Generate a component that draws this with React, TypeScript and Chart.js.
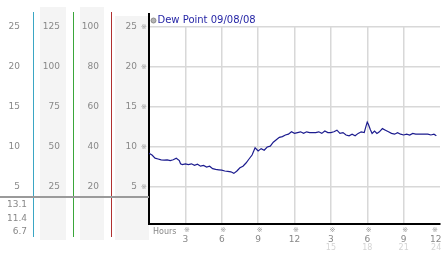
import React, { useEffect, useRef } from 'react';
import { Chart, registerables } from 'chart.js';

Chart.register(...registerables);

const FONT = 'DejaVu Sans';

const seriesLabel = 'Dew Point 09/08/08';

const hours = [
  0, 0.25, 0.5, 0.75, 1, 1.25, 1.5, 1.75, 2, 2.25, 2.5, 2.6,
  2.75, 3, 3.25, 3.5, 3.75, 4, 4.25, 4.5, 4.75, 5, 5.25, 5.5, 5.75,
  6, 6.25, 6.5, 6.75, 7, 7.25, 7.5, 7.75, 8, 8.25, 8.5, 8.75,
  9, 9.25, 9.5, 9.75, 10, 10.25, 10.5, 10.75, 11, 11.25, 11.5, 11.75,
  12, 12.25, 12.5, 12.75, 13, 13.25, 13.5, 13.75, 14, 14.25, 14.5, 14.75,
  15, 15.25, 15.5, 15.75, 16, 16.25, 16.5, 16.75, 17, 17.25, 17.5, 17.75,
  17.9, 18, 18.1, 18.25, 18.4, 18.6, 18.8,
  19, 19.25, 19.5, 19.75, 20, 20.25, 20.5, 20.75, 21, 21.25, 21.5, 21.75,
  22, 22.25, 22.5, 22.75, 23, 23.25, 23.5, 23.7,
];

const dewPoint = [
  9.2, 9.0, 8.6, 8.5, 8.4, 8.35, 8.4, 8.3, 8.4, 8.6, 8.3, 7.9,
  7.8, 7.9, 7.8, 7.9, 7.7, 7.85, 7.6, 7.7, 7.5, 7.6, 7.3, 7.2, 7.15,
  7.1, 7.0, 6.95, 6.9, 6.7, 7.0, 7.4, 7.6, 8.0, 8.5, 9.0, 9.9,
  9.5, 9.8, 9.6, 10.0, 10.1, 10.6, 10.9, 11.2, 11.3, 11.5, 11.6, 11.9,
  11.7, 11.8, 11.9, 11.7, 11.9, 11.8, 11.8, 11.8, 11.9, 11.7, 12.0, 11.8,
  11.8, 11.9, 12.1, 11.7, 11.8, 11.5, 11.4, 11.6, 11.4, 11.7, 11.9, 11.8,
  12.6, 13.1, 12.8, 12.2, 11.7, 12.0, 11.7,
  11.9, 12.3, 12.1, 11.9, 11.7, 11.6, 11.8, 11.6, 11.5, 11.6, 11.5, 11.7,
  11.6, 11.6, 11.6, 11.6, 11.6, 11.5, 11.6, 11.4,
];

const xTickHours = [3, 6, 9, 12, 15, 18, 21, 24];
const xTickLabels = ['3', '6', '9', '12', '3', '6', '9', '12'];
const xTickLabels2 = ['', '', '', '', '15', '18', '21', '24'];
const xAxisName = 'Hours';

const yTicksDew = [5, 10, 15, 20, 25];
const yTicksB = [20, 40, 60, 80, 100];
const yTicksC = [25, 50, 75, 100, 125];
const yTicksD = [5, 10, 15, 20, 25];

const statLabels = ['13.1', '11.4', '6.7'];

const yMin = 0.375;
const yMax = 25;

export default function App() {
  const ref = useRef<HTMLCanvasElement>(null);

  useEffect(() => {
    const canvas = ref.current!;
    const lastDew = yTicksDew[yTicksDew.length - 1];
    const rB = yTicksB[yTicksB.length - 1] / lastDew;
    const rC = yTicksC[yTicksC.length - 1] / lastDew;
    const lastX = xTickLabels.length - 1;

    const setTicks = (arr: number[]) => (s: any) => {
      s.ticks = arr.map((v) => ({ value: v }));
    };
    const tickFont = { family: FONT, size: 9 };

    const sideAxis = (arr: number[], ratio: number, weight: number, width: number, padding: number) => ({
      type: 'linear',
      axis: 'y',
      position: 'left',
      weight,
      min: yMin * ratio,
      max: yMax * ratio,
      afterBuildTicks: setTicks(arr),
      afterFit: (s: any) => {
        s.width = width;
      },
      grid: { display: false, drawTicks: false },
      border: { display: false },
      ticks: { color: '#888', font: tickFont, padding },
    });

    const mark = (ctx: CanvasRenderingContext2D, x: number, y: number) => {
      ctx.save();
      ctx.font = `7px ${FONT}`;
      ctx.fillStyle = '#9a9a9a';
      ctx.textAlign = 'center';
      ctx.textBaseline = 'middle';
      ctx.fillText('\u203B', x, y);
      ctx.restore();
    };

    const decor = {
      id: 'decor',
      beforeDraw(chart: any) {
        const { ctx, chartArea, scales } = chart;
        const bgBottom = chartArea.bottom + 16;
        ctx.save();
        ctx.fillStyle = '#f4f4f4';
        const c = scales.yC;
        const b = scales.yB;
        const y = scales.y;
        ctx.fillRect(c.left + 7, 7, c.width - 14, bgBottom - 7);
        ctx.fillRect(b.left + 7, 7, b.width - 14, bgBottom - 7);
        ctx.fillRect(y.left + 4, 16, y.width - 4, bgBottom - 16);
        ctx.restore();
      },
      afterDraw(chart: any) {
        const { ctx, chartArea, scales } = chart;
        ctx.save();
        const seps: [any, string][] = [
          [scales.yD, '#3aa6c4'],
          [scales.yC, '#3aa63a'],
          [scales.yB, '#b03030'],
        ];
        ctx.lineWidth = 1;
        for (const [s, col] of seps) {
          ctx.strokeStyle = col;
          ctx.beginPath();
          ctx.moveTo(Math.round(s.right) + 0.5, 12);
          ctx.lineTo(Math.round(s.right) + 0.5, chartArea.bottom + 13);
          ctx.stroke();
        }
        ctx.strokeStyle = '#9a9a9a';
        ctx.lineWidth = 2;
        ctx.beginPath();
        ctx.moveTo(0, chartArea.bottom - 27);
        ctx.lineTo(chartArea.left, chartArea.bottom - 27);
        ctx.stroke();
        ctx.strokeStyle = '#000';
        ctx.beginPath();
        ctx.moveTo(chartArea.left, 13);
        ctx.lineTo(chartArea.left, chartArea.top + 1);
        ctx.stroke();
        ctx.font = `9px ${FONT}`;
        ctx.fillStyle = '#888';
        ctx.textAlign = 'right';
        ctx.textBaseline = 'middle';
        statLabels.forEach((t, i) => {
          ctx.fillText(t, scales.yD.right - 6, chartArea.bottom - 19 + i * 13.5);
        });
        ctx.textAlign = 'left';
        ctx.font = `8px ${FONT}`;
        ctx.fillText(xAxisName, chartArea.left + 4, chartArea.bottom + 8);
        ctx.restore();
        for (const v of yTicksDew) mark(ctx, chartArea.left - 5, scales.y.getPixelForValue(v));
        xTickHours.forEach((h, i) => {
          const px = scales.x.getPixelForValue(h) + (i === lastX ? -5 : 1.5);
          mark(ctx, px, chartArea.bottom + 6);
        });
        ctx.save();
        const lx = chartArea.left + 4.5;
        const ly = 20.5;
        ctx.beginPath();
        ctx.arc(lx, ly, 2.5, 0, Math.PI * 2);
        ctx.fillStyle = '#b4b4b4';
        ctx.fill();
        ctx.strokeStyle = '#8a8a8a';
        ctx.lineWidth = 1;
        ctx.stroke();
        ctx.font = `10px ${FONT}`;
        ctx.fillStyle = '#2626a6';
        ctx.textAlign = 'left';
        ctx.textBaseline = 'middle';
        ctx.fillText(chart.data.datasets[0].label, lx + 4, ly);
        ctx.restore();
      },
    };

    const chart = new Chart(canvas, {
      type: 'line',
      data: {
        datasets: [
          {
            label: seriesLabel,
            data: hours.map((h, i) => ({ x: h, y: dewPoint[i] })),
            borderColor: '#1c1c8f',
            borderWidth: 1.2,
            pointRadius: 0,
            tension: 0,
            xAxisID: 'x',
            yAxisID: 'y',
          },
        ],
      },
      options: {
        responsive: false,
        animation: false,
        devicePixelRatio: 1,
        layout: { padding: { top: 27, right: 2, left: 0, bottom: 0 } },
        plugins: { legend: { display: false }, tooltip: { enabled: false } },
        scales: {
          x: {
            type: 'linear',
            position: 'bottom',
            weight: 0,
            min: 0,
            max: 24,
            afterBuildTicks: setTicks(xTickHours),
            afterFit: (s: any) => {
              s.height = 19;
              s.paddingLeft = 0;
              s.paddingRight = 0;
            },
            grid: {
              color: (c: any) => (c.tick && c.tick.value === 24 ? 'rgba(0,0,0,0)' : '#d8d8d8'),
              lineWidth: 1.5,
              drawTicks: false,
            },
            border: { color: '#000', width: 2 },
            ticks: {
              color: '#888',
              font: tickFont,
              padding: 10,
              autoSkip: false,
              maxRotation: 0,
              minRotation: 0,
              callback: (_v: any, i: number) => xTickLabels[i] + (i === lastX ? '   ' : ''),
            },
          },
          x2: {
            type: 'linear',
            axis: 'x',
            position: 'bottom',
            weight: 1,
            min: 0,
            max: 24,
            afterBuildTicks: setTicks(xTickHours),
            afterFit: (s: any) => {
              s.height = 10;
              s.paddingLeft = 0;
              s.paddingRight = 0;
            },
            grid: { display: false, drawTicks: false },
            border: { display: false },
            ticks: {
              color: '#d4d4d4',
              font: { family: FONT, size: 8 },
              padding: 0,
              autoSkip: false,
              maxRotation: 0,
              minRotation: 0,
              callback: (_v: any, i: number) => xTickLabels2[i] + (i === lastX ? '   ' : ''),
            },
          },
          y: {
            type: 'linear',
            position: 'left',
            weight: 0,
            min: yMin,
            max: yMax,
            afterBuildTicks: setTicks(yTicksDew),
            afterFit: (s: any) => {
              s.width = 38;
            },
            grid: { color: '#d8d8d8', lineWidth: 1.5, drawTicks: false },
            border: { color: '#000', width: 2 },
            ticks: { color: '#888', font: tickFont, padding: 12 },
          },
          yB: sideAxis(yTicksB, rB, 1, 38, 12),
          yC: sideAxis(yTicksC, rC, 2, 40, 13),
          yD: sideAxis(yTicksD, 1, 3, 33, 13),
        } as any,
      },
      plugins: [decor],
    } as any);

    return () => chart.destroy();
  }, []);

  return (
    <div style={{ position: 'absolute', left: 0, top: 0, width: 442, height: 253, background: '#fff' }}>
      <canvas ref={ref} width={442} height={253} style={{ display: 'block' }} />
    </div>
  );
}
